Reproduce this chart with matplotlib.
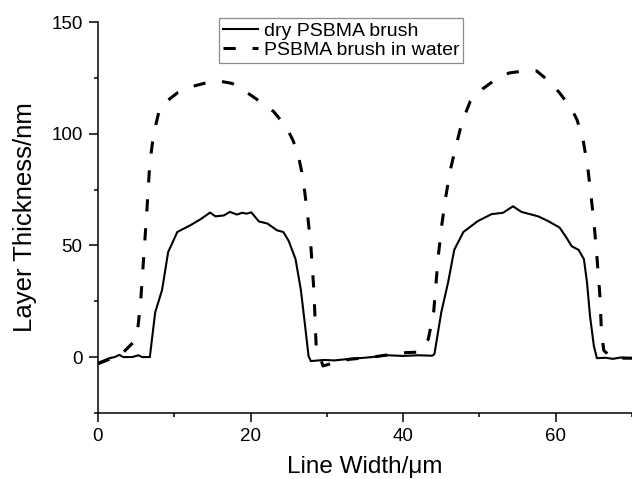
import matplotlib
matplotlib.use('Agg')
import matplotlib.pyplot as plt
from matplotlib.ticker import MultipleLocator

plt.rcParams['font.family'] = ['Liberation Sans', 'DejaVu Sans']

# dry brush profile (solid)
dryX = [0, 0.8, 1.5, 2.2, 2.8, 3.3, 4.5, 5.3, 5.8, 6.8,
        7.5, 8.4, 9.2, 10.4, 12.1, 13.4, 14.7, 15.4, 16.5, 17.3, 18.2, 18.9, 19.5, 20.1,
        21.1, 22.2, 23.5, 24.3, 25.0, 25.9, 26.6, 27.2, 27.6, 27.9,
        29.6, 31.0, 33.0, 35.0, 36.5, 38.0, 40.0, 42.0, 43.8,
        44.1, 45.0, 45.9, 46.7, 47.9, 49.8, 51.6, 53.1, 54.4, 55.5, 57.7, 59.0, 60.5,
        61.4, 62.1, 63.0, 63.7, 64.1, 64.5, 65.0, 65.4, 66.5, 67.5, 68.5, 70]
dryY = [-2.5, -1.5, -0.5, 0, 1, 0, 0, 0.8, 0, 0,
        20, 30, 47, 56, 59, 61.6, 64.7, 63, 63.4, 65, 63.8, 64.6, 64.2, 64.8,
        60.7, 59.8, 56.7, 56, 52, 43.8, 30, 12.5, 0.5, -1.8,
        -1.3, -1.5, -0.8, -0.3, 0.2, 0.8, 0.5, 0.8, 0.6,
        1.3, 20, 33.5, 48, 56, 60.9, 64, 64.6, 67.5, 65, 63, 60.9, 58,
        53.5, 49.6, 48, 43.8, 33.5, 18.3, 5, -0.5, -0.3, -0.8, -0.2, -0.5]

# brush in water profile (dashed)
wetX = [0, 1.5, 3, 4.6, 5.2, 5.6, 6.0, 6.4, 6.8, 7.3, 8.0, 8.8, 10.5, 12.2, 14.2, 15.7,
        17.6, 19.3, 21.2, 23.0, 24.6, 25.5, 26.2, 26.7, 27.1, 27.5, 27.9, 28.3, 28.6,
        29.5, 31.2, 33, 36, 38, 40.4, 42, 43.3, 44.0, 44.6, 45.1, 45.6, 46.2, 46.9,
        47.7, 48.8, 50.4, 52.2, 53.9, 55.8, 57.5, 59.3, 60.5, 62.0, 62.8, 63.6, 64.2,
        64.6, 65.0, 65.4, 65.8, 66.0, 66.3, 67.4, 68.5, 70]
wetY = [-3, -1, 1, 6.5, 12, 25, 45, 65, 87, 100, 110, 114, 118.5, 121, 122.8, 123.7,
        122.5, 119, 114.5, 110, 103.5, 97.5, 91.5, 83, 74, 63, 50, 30, 5,
        -4, -2.3, -1, 0, 1, 2, 2.2, 8, 20, 45, 60, 72, 84, 94,
        105, 114.5, 120, 124.5, 127.2, 128.1, 128.1, 123, 118.3, 111.6, 106.2, 97, 85,
        73, 61, 45, 27, 11, 3, -0.5, -0.5, -0.5]

fig = plt.figure(figsize=(6.32, 4.79), dpi=100)
ax = fig.add_axes([0.155, 0.138, 0.845, 0.816])

ax.plot(dryX, dryY, 'k-', lw=1.5, label='dry PSBMA brush')
ax.plot(wetX, wetY, 'k', lw=2.2, dashes=(4, 5.5), label='PSBMA brush in water')

ax.set_xlim(0, 70)
ax.set_ylim(-25, 150)
ax.xaxis.set_major_locator(MultipleLocator(20))
ax.xaxis.set_minor_locator(MultipleLocator(10))
ax.yaxis.set_major_locator(MultipleLocator(50))
ax.yaxis.set_minor_locator(MultipleLocator(25))
ax.tick_params(which='major', direction='out', length=6.5, width=1.1, labelsize=13.5, pad=4.5)
ax.tick_params(which='minor', direction='out', length=3, width=1.1)
for s in ['top', 'right']:
    ax.spines[s].set_visible(False)
for s in ['left', 'bottom']:
    ax.spines[s].set_linewidth(1.1)

ax.set_xlabel('Line Width/\u03bcm', fontsize=17.5, labelpad=8)
ax.set_ylabel('Layer Thickness/nm', fontsize=18.5, labelpad=10)

leg = ax.legend(loc='upper left', bbox_to_anchor=(219/632, 1-18/479), bbox_transform=fig.transFigure,
                borderaxespad=0, fontsize=14, frameon=True, fancybox=False, edgecolor='#707070',
                handlelength=1.8, handletextpad=0.3, labelspacing=0.1, borderpad=0.2)
leg.get_frame().set_linewidth(0.9)

fig.savefig('out.png', dpi=100)
